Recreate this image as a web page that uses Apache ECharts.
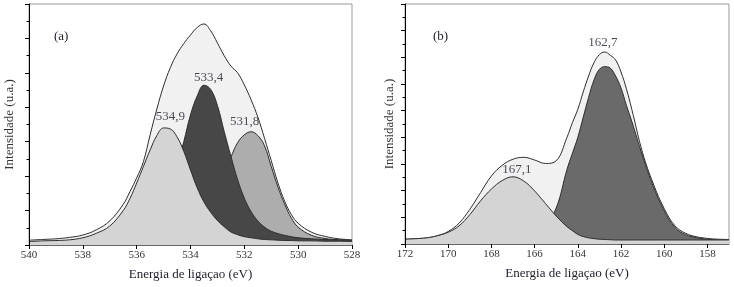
<!DOCTYPE html>
<html>
<head>
<meta charset="utf-8">
<script src="https://cdn.jsdelivr.net/npm/echarts@6/dist/echarts.min.js"></script>
<style>
  html, body { margin: 0; padding: 0; background: #fff; }
  #main { width: 734px; height: 287px; }
</style>
</head>
<body>
<div id="main"></div>
<script>
// (a) O 1s
var energiaA = [540, 539.5, 539, 538.5, 538, 537.5, 537, 536.5, 536.25, 536, 535.75, 535.5, 535.25, 535,
  534.75, 534.5, 534.25, 534, 533.75, 533.5, 533.25, 533, 532.75, 532.5, 532.25, 532, 531.75, 531.5,
  531.25, 531, 530.75, 530.5, 530.25, 530, 529.5, 529, 528.5, 528]
var envolA = [0.14, 0.16, 0.18, 0.22, 0.29, 0.44, 0.70, 1.18, 1.55, 1.95, 2.42, 3.20, 3.95, 4.62,
  5.15, 5.55, 5.85, 6.10, 6.32, 6.42, 6.22, 5.87, 5.50, 5.20, 5.00, 4.65, 4.22, 3.72,
  3.10, 2.45, 1.80, 1.27, 0.88, 0.63, 0.37, 0.25, 0.18, 0.15]
var pico5349 = [0.10, 0.12, 0.13, 0.15, 0.21, 0.34, 0.55, 1.00, 1.35, 1.80, 2.28, 2.76, 3.18, 3.40,
  3.37, 3.14, 2.72, 2.18, 1.66, 1.25, 0.95, 0.71, 0.53, 0.38, 0.30, 0.24, 0.21, 0.18,
  0.16, 0.15, 0.14, 0.13, 0.13, 0.12, 0.12, 0.11, 0.11, 0.10]
var pico5334 = [0.08, 0.09, 0.10, 0.11, 0.12, 0.13, 0.14, 0.17, 0.20, 0.24, 0.32, 0.45, 0.70, 1.10,
  1.65, 2.30, 3.00, 3.78, 4.33, 4.64, 4.52, 4.05, 3.30, 2.58, 1.90, 1.36, 0.97, 0.70,
  0.52, 0.40, 0.33, 0.28, 0.24, 0.21, 0.18, 0.16, 0.15, 0.14]
var pico5318 = [0.08, 0.08, 0.08, 0.08, 0.08, 0.09, 0.09, 0.09, 0.10, 0.10, 0.10, 0.11, 0.12, 0.13,
  0.15, 0.18, 0.25, 0.37, 0.55, 0.80, 1.15, 1.60, 2.10, 2.55, 2.97, 3.20, 3.29, 3.18,
  2.88, 2.28, 1.68, 1.18, 0.78, 0.52, 0.28, 0.19, 0.15, 0.13]
var rotulosA = ['534,9', '533,4', '531,8']
var rotulosAx = [534.9, 533.4, 531.8]
var rotulosAy = [3.42, 4.65, 3.29]

// (b) S 2p
var energiaB = [172, 171.5, 171, 170.5, 170, 169.5, 169, 168.5, 168, 167.5, 167, 166.5, 166, 165.5,
  165, 164.5, 164.25, 164, 163.75, 163.5, 163.25, 163, 162.75, 162.5, 162.25, 162, 161.75, 161.5,
  161, 160.5, 160, 159.5, 159, 158.5, 158, 157.5, 157]
var envolB = [0.18, 0.20, 0.23, 0.31, 0.47, 0.78, 1.30, 1.93, 2.55, 2.95, 3.18, 3.25, 3.15, 3.02,
  3.12, 4.00, 4.55, 5.05, 5.70, 6.30, 6.80, 7.10, 7.20, 7.08, 6.90, 6.45, 5.82, 5.05,
  3.42, 2.25, 1.33, 0.68, 0.40, 0.27, 0.21, 0.18, 0.17]
var pico1671 = [0.18, 0.20, 0.23, 0.31, 0.44, 0.68, 1.10, 1.62, 2.06, 2.38, 2.52, 2.36, 1.99, 1.52,
  1.05, 0.65, 0.50, 0.36, 0.28, 0.23, 0.20, 0.18, 0.17, 0.16, 0.15, 0.15, 0.15, 0.15,
  0.15, 0.15, 0.15, 0.15, 0.15, 0.15, 0.15, 0.15, 0.15]
var pico1627 = [0.12, 0.12, 0.12, 0.12, 0.12, 0.12, 0.13, 0.14, 0.15, 0.17, 0.20, 0.28, 0.42, 0.72,
  1.35, 2.80, 3.40, 4.00, 4.75, 5.50, 6.15, 6.55, 6.65, 6.60, 6.30, 5.85, 5.20, 4.60,
  3.30, 2.15, 1.25, 0.62, 0.35, 0.24, 0.18, 0.15, 0.14]
var rotulosB = ['167,1', '162,7']
var rotulosBx = [167.1, 162.7]
var rotulosBy = [2.52, 7.2]

var ticksB = [172, 170, 168, 166, 164, 162, 160, 158]

var fonte = 'Liberation Serif, Times New Roman, serif'
var corTexto = '#1d1d2b'

function pares(xs, ys) {
  var out = []
  for (var i = 0; i < xs.length; i++) out.push([xs[i], ys[i]])
  return out
}

//curva preenchida, z crescente para cada pico ficar por cima do anterior
function curva(idx, xs, ys, cor, z) {
  return {
    type: 'line',
    xAxisIndex: idx,
    yAxisIndex: idx,
    z: z,
    data: pares(xs, ys),
    smooth: 0.4,
    showSymbol: false,
    silent: true,
    lineStyle: { color: '#2e2e2e', width: 1 },
    areaStyle: { color: cor, opacity: 1 }
  }
}

function rotulos(idx, xs, ys, textos, offsets) {
  var data = []
  for (var i = 0; i < xs.length; i++) {
    data.push({
      value: [xs[i], ys[i]],
      label: { formatter: textos[i], offset: offsets[i] }
    })
  }
  return {
    type: 'scatter',
    xAxisIndex: idx,
    yAxisIndex: idx,
    symbolSize: 0,
    silent: true,
    z: 20,
    label: {
      show: true,
      position: 'inside',
      fontFamily: fonte,
      fontSize: 13,
      color: corTexto
    },
    data: data
  }
}

function eixoY(idx, max, gap) {
  return {
    gridIndex: idx,
    type: 'value',
    min: 0,
    max: max,
    interval: 1,
    z: 30,
    name: 'Intensidade (u.a.)',
    nameLocation: 'middle',
    nameGap: gap,
    nameTextStyle: { fontFamily: fonte, fontSize: 13, color: '#333' },
    axisLine: { show: true, lineStyle: { color: '#000', width: 1 } },
    axisTick: { show: true, inside: false, length: 4, lineStyle: { color: '#000' } },
    minorTick: { show: true, splitNumber: 2, length: 2.5, lineStyle: { color: '#000' } },
    axisLabel: { show: false },
    splitLine: { show: false }
  }
}

var eixoXbase = {
  type: 'value',
  inverse: true,
  z: 30,
  name: 'Energia de ligaçao (eV)',
  nameLocation: 'middle',
  nameGap: 23,
  nameTextStyle: { fontFamily: fonte, fontSize: 13, color: corTexto },
  axisLine: { show: true, lineStyle: { color: '#666', width: 1 } },
  axisTick: { show: true, inside: false, length: 4, lineStyle: { color: '#000' } },
  axisLabel: { fontFamily: fonte, fontSize: 11, color: '#333', margin: 5 },
  splitLine: { show: false }
}

var chart = echarts.init(document.getElementById('main'), null, { renderer: 'canvas' })

var option = {
  animation: false,
  backgroundColor: '#fff',
  title: [
    { text: '(a)', left: 49, top: 25, textStyle: { fontFamily: fonte, fontSize: 13, fontWeight: 'normal', color: corTexto } },
    { text: '(b)', left: 428, top: 25, textStyle: { fontFamily: fonte, fontSize: 13, fontWeight: 'normal', color: corTexto } }
  ],
  grid: [
    { left: 29, right: 382, top: 4, bottom: 42, show: true, borderColor: '#999', borderWidth: 1 },
    { left: 405, right: 5, top: 4, bottom: 43, show: true, borderColor: '#999', borderWidth: 1 }
  ],
  xAxis: [
    Object.assign({}, eixoXbase, { gridIndex: 0, min: 528, max: 540, interval: 2 }),
    Object.assign({}, eixoXbase, {
      gridIndex: 1, min: 157, max: 172,
      axisTick: { show: true, inside: false, length: 4, lineStyle: { color: '#000' }, customValues: ticksB },
      axisLabel: { fontFamily: fonte, fontSize: 11, color: '#333', margin: 5, customValues: ticksB }
    })
  ],
  yAxis: [eixoY(0, 7, 13), eixoY(1, 9, 9)],
  series: [
    curva(0, energiaA, envolA, '#f1f1f1', 2),
    curva(0, energiaA, pico5318, '#adadad', 3),
    curva(0, energiaA, pico5334, '#474747', 4),
    curva(0, energiaA, pico5349, '#d4d4d4', 5),
    rotulos(0, rotulosAx, rotulosAy, rotulosA, [[4, -11], [2, -7], [-5, -10]]),

    curva(1, energiaB, envolB, '#f1f1f1', 2),
    curva(1, energiaB, pico1627, '#6a6a6a', 3),
    curva(1, energiaB, pico1671, '#d4d4d4', 4),
    rotulos(1, rotulosBx, rotulosBy, rotulosB, [[6, -7], [-3, -9.5]])
  ]
}

chart.setOption(option)
</script>
</body>
</html>
